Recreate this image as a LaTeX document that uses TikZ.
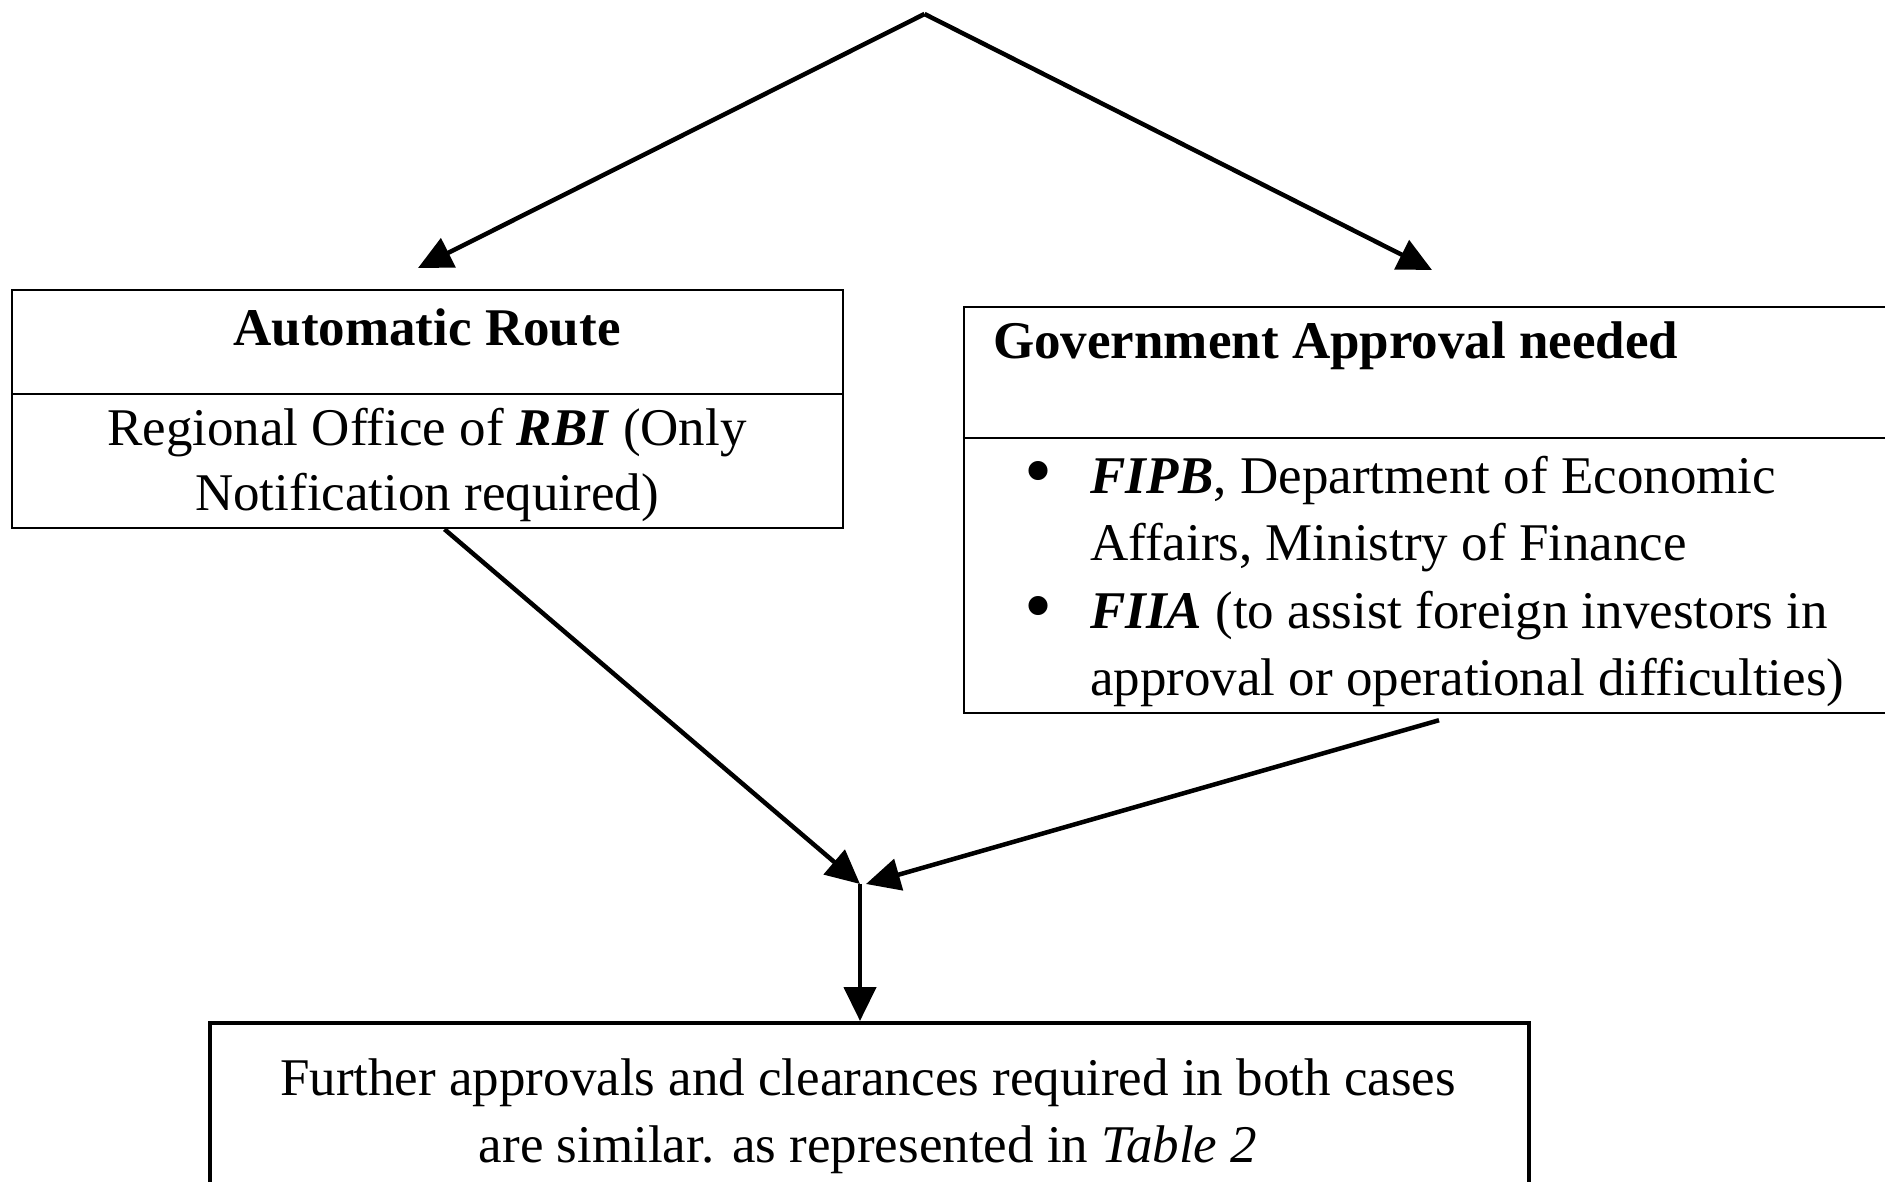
\documentclass[tikz,border=0pt]{standalone}
\usepackage{fontspec}
\setmainfont{Liberation Serif}
\usetikzlibrary{arrows.meta}
\tikzset{
  boxshape/.style={draw, line width=2.5pt, rectangle, inner sep=0pt},
  divider/.style={line width=2.5pt},
  txt/.style={inner sep=0pt, font=\fontsize{53}{66}\selectfont},
  bul/.style={inner sep=0pt, font=\fontsize{80}{66}\selectfont},
  conn/.style={line width=4.5pt, -{Triangle[length=34pt,width=32pt]}}
}
\begin{document}
\begin{tikzpicture}[x=1pt,y=-1pt]
\useasboundingbox (0,0) rectangle (1885,1182);
\clip (0,0) rectangle (1885,1182);
\fill[white] (0,0) rectangle (1885,1182);

% boxes
\node[boxshape, minimum width=831pt, minimum height=238pt] (auto) at (427.5,409) {};
\node[boxshape, minimum width=936pt, minimum height=406pt] (gov) at (1432,510) {};
\node[boxshape, line width=4pt, minimum width=1319pt, minimum height=200pt] (further) at (869.5,1123) {};

% dividers
\draw[divider] (auto.west |- 0,394) -- (auto.east |- 0,394);
\draw[divider] (gov.west |- 0,438) -- (gov.east |- 0,438);

% texts of the left box
\node[txt, anchor=base] (autotitle) at (427,345) {\bfseries Automatic Route};
\node[txt, anchor=base] (autol1) at (427,445) {Regional Office of \textbf{\textit{RBI}} (Only};
\node[txt, anchor=base] (autol2) at (427,510) {Notification required)};

% texts of the right box
\node[txt, anchor=base west] (govtitle) at (993,358) {\bfseries Government Approval needed};
\node[bul, anchor=base] (bul1) at (1038,497) {•};
\node[txt, anchor=base west] (fipb1) at (1090,493) {\textbf{\textit{FIPB}}, Department of Economic};
\node[txt, anchor=base west] (fipb2) at (1090,560) {Affairs, Ministry of Finance};
\node[bul, anchor=base] (bul2) at (1038,632) {•};
\node[txt, anchor=base west] (fiia1) at (1090,628) {\textbf{\textit{FIIA}} (to assist foreign investors in};
\node[txt, anchor=base west] (fiia2) at (1090,695) {approval or operational difficulties)};

% texts of the bottom box
\node[txt, anchor=base] (fur1) at (868,1095) {Further approvals and clearances required in both cases};
\node[txt, anchor=base] (fur2) at (868,1162) {are similar. as represented in \textit{Table 2}};

% coordinates
\coordinate (apex) at (924.5,14);
\coordinate (ltip) at (418,268);
\coordinate (rtip) at (1432,270);
\coordinate (join) at (860,884);

% connectors
\draw[conn] (apex) -- (ltip);
\draw[conn] (apex) -- (rtip);
\draw[conn] ([xshift=17pt]auto.south) -- (join);
\draw[conn] ([xshift=7pt,yshift=-6pt]gov.south) -- ([xshift=6pt]join);
\draw[conn] (join) -- (join |- further.north);
\end{tikzpicture}
\end{document}
